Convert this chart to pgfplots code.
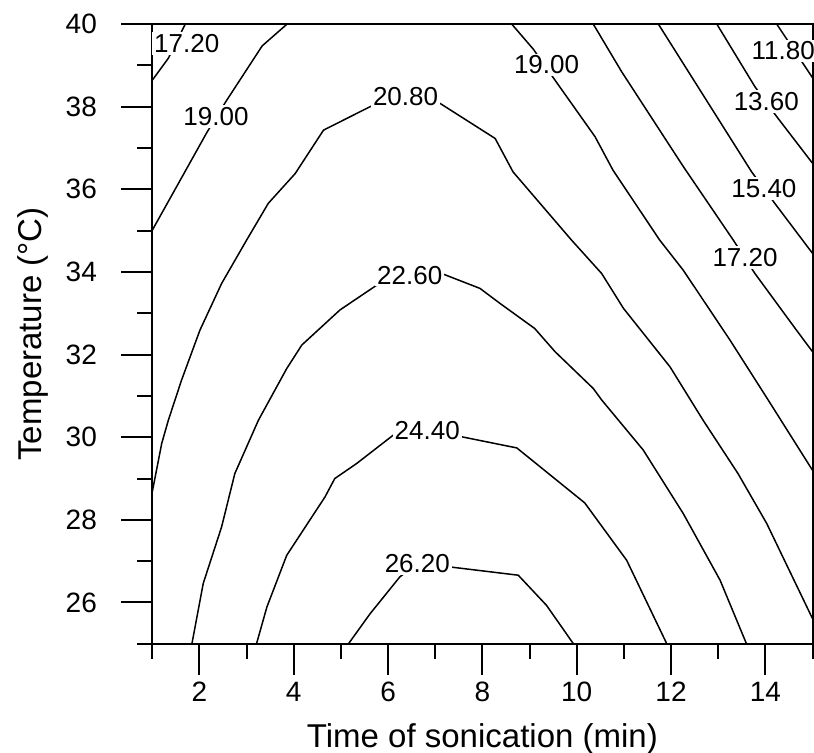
\documentclass[border=0pt]{standalone}
\usepackage{fontspec}
\setmainfont{Liberation Sans}
\usepackage{pgfplots}
\pgfplotsset{compat=1.18}
\usepackage{pgfplotstable}

% contour 11.80
\pgfplotstableread{
x y
14.24 40.00
15.00 38.70
}\cA
% contour 13.60
\pgfplotstableread{
x y
12.97 40.00
13.78 38.48
14.24 37.76
15.00 36.63
}\cB
% contour 15.40
\pgfplotstableread{
x y
11.73 40.00
13.71 36.42
14.20 35.66
15.00 34.45
}\cC
% contour 17.20 (right)
\pgfplotstableread{
x y
10.35 40.00
10.95 38.85
12.26 36.55
13.32 34.77
13.78 33.96
14.66 32.59
15.00 32.07
}\cD
% contour 17.20 (left)
\pgfplotstableread{
x y
1.00 38.64
1.34 39.17
1.70 40.00
}\cDl
% contour 19.00 (right)
\pgfplotstableread{
x y
8.62 40.00
9.08 39.39
9.54 38.64
10.39 37.27
10.77 36.46
11.76 34.77
12.26 34.04
13.25 32.35
14.06 30.90
15.00 29.20
}\cE
% contour 19.00 (left)
\pgfplotstableread{
x y
1.00 35.01
2.16 37.38
2.57 38.14
3.33 39.47
3.86 40.00
}\cEl
% contour 20.80
\pgfplotstableread{
x y
1.00 28.68
1.20 29.85
1.34 30.41
1.62 31.38
2.01 32.59
2.47 33.72
3.00 34.77
3.46 35.66
4.03 36.38
4.63 37.43
5.69 38.04
6.37 38.24
7.10 38.08
8.27 37.23
8.65 36.42
9.89 34.77
10.53 33.96
10.99 33.12
11.98 31.70
12.68 30.41
13.42 29.12
14.03 27.91
15.00 25.61
}\cF
% contour 22.60
\pgfplotstableread{
x y
1.84 25.00
2.08 26.46
2.47 27.83
2.75 29.12
3.25 30.41
3.85 31.66
4.17 32.23
4.98 33.08
5.76 33.68
6.46 33.92
7.14 33.96
7.95 33.60
8.37 33.24
9.11 32.63
9.54 32.07
10.35 31.18
10.53 30.90
11.41 29.69
12.26 28.15
13.04 26.54
13.60 25.00
}\cG
% contour 24.40
\pgfplotstableread{
x y
3.21 25.00
3.43 25.89
3.85 27.14
4.20 27.75
4.66 28.55
4.87 29.00
5.33 29.36
6.11 30.05
6.83 30.15
7.56 30.01
8.73 29.74
10.17 28.41
11.06 27.02
11.91 25.00
}\cH
% contour 26.20
\pgfplotstableread{
x y
5.16 25.00
5.62 25.73
6.25 26.62
6.62 26.94
7.31 26.86
8.76 26.66
9.36 25.93
9.93 25.00
}\cI
% contour labels
\pgfplotstableread{
x y lab
1.73 39.53 17.20
2.35 37.76 19.00
6.37 38.24 20.80
6.46 33.92 22.60
6.83 30.15 24.40
6.62 26.94 26.20
9.36 39.01 19.00
13.57 34.35 17.20
13.97 36.02 15.40
14.02 38.12 13.60
14.38 39.35 11.80
}\labs

\begin{document}
\begin{tikzpicture}
\begin{axis}[
  at={(0,0)}, anchor=south west,
  scale only axis, width=330.1pt, height=309.9pt,
  xmin=1, xmax=15, ymin=25, ymax=40,
  axis on top,
  axis line style={line width=1pt, black},
  tick align=outside,
  xtick pos=bottom, ytick pos=left,
  xtick={2,4,...,14}, minor xtick={1,3,...,15},
  ytick={26,28,...,40}, minor ytick={25,27,...,39},
  major tick length=15.5pt, minor tick length=7.5pt,
  every tick/.style={black, line width=1pt},
  /pgf/number format/assume math mode=true,
  ticklabel style={font=\fontsize{14}{16.5}\selectfont},
  xticklabel style={anchor=north, inner sep=0pt, yshift=-3.5pt},
  yticklabel style={anchor=east, inner sep=0pt, xshift=-12pt},
  xlabel={Time of sonication (min)},
  ylabel={Temperature (°C)},
  label style={font=\fontsize{16.5}{20}\selectfont},
  xlabel style={at={(axis description cs:0.5,-0.1677)}, anchor=base, inner sep=0pt},
  ylabel style={at={(axis description cs:-0.168,0.5)}, anchor=base, inner sep=0pt},
  no marks,
]
\addplot[black, line width=0.75pt] table {\cA};
\addplot[black, line width=0.75pt] table {\cB};
\addplot[black, line width=0.75pt] table {\cC};
\addplot[black, line width=0.75pt] table {\cD};
\addplot[black, line width=0.75pt] table {\cDl};
\addplot[black, line width=0.75pt] table {\cE};
\addplot[black, line width=0.75pt] table {\cEl};
\addplot[black, line width=0.75pt] table {\cF};
\addplot[black, line width=0.75pt] table {\cG};
\addplot[black, line width=0.75pt] table {\cH};
\addplot[black, line width=0.75pt] table {\cI};
\addplot[draw=none, nodes near coords={\pgfplotspointmeta}, point meta=explicit symbolic,
  nodes near coords style={anchor=center, fill=white, inner xsep=1pt, inner ysep=1pt, font=\fontsize{13}{15}\selectfont}]
  table[meta=lab] {\labs};
\end{axis}
\pgfresetboundingbox
\path[use as bounding box] (-76.15pt,-54.5pt) rectangle (330.85pt,321.9pt);
\end{tikzpicture}
\end{document}
